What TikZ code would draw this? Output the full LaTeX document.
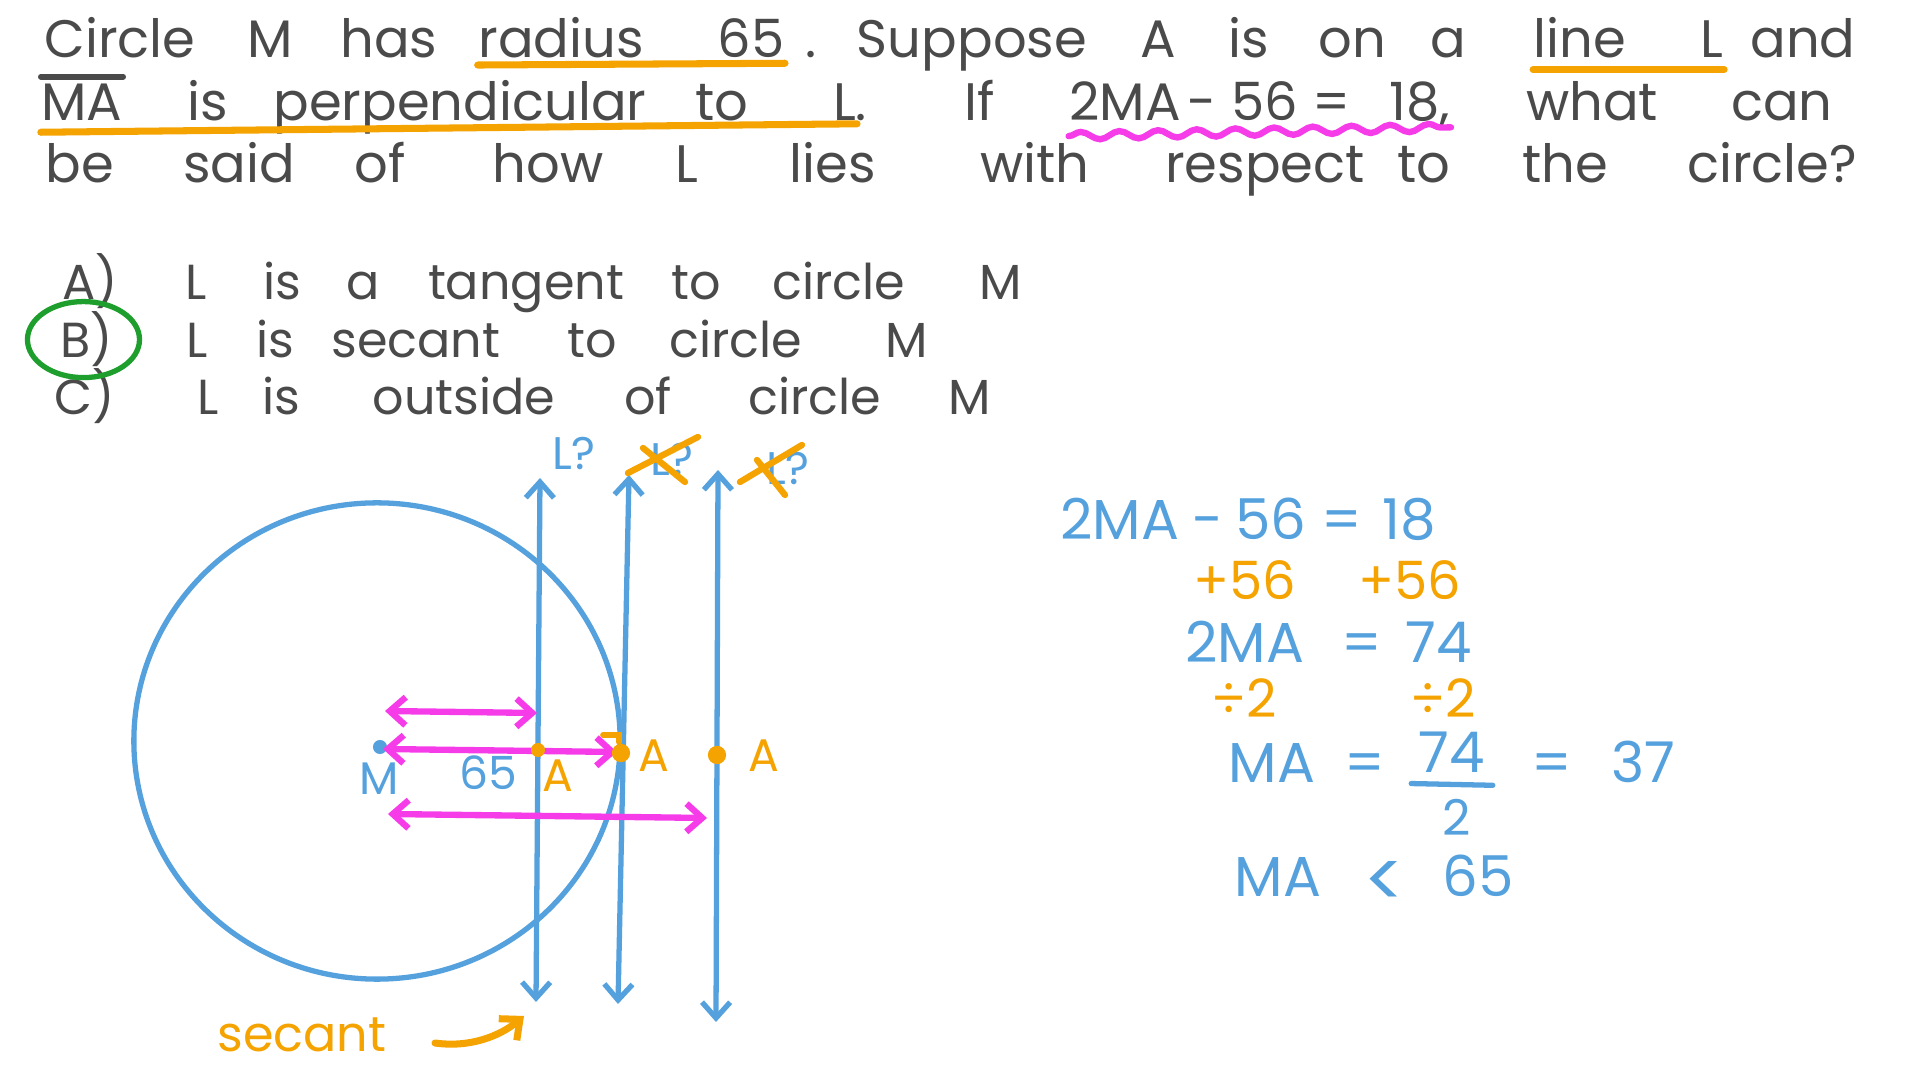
\documentclass[tikz,border=0pt]{standalone}
\usepackage{fontspec}
\setmainfont{Poppins}
\usepackage{tikz}
\usetikzlibrary{arrows.meta, positioning, decorations.pathmorphing}
\definecolor{inkgray}{HTML}{4A4A4A}
\definecolor{penblue}{HTML}{55A1DE}
\definecolor{penorange}{HTML}{F5A300}
\definecolor{penpink}{HTML}{F53CE8}
\definecolor{pengreen}{HTML}{1E9E2C}

\begin{document}
\begin{tikzpicture}[
    x=0.01cm, y=-0.01cm,
    every node/.style={inner sep=0pt, anchor=base},
    word/.style={font=\fontsize{15}{18}\selectfont, text=inkgray},
    choice/.style={font=\fontsize{14}{17}\selectfont, text=inkgray},
    bluetxt/.style={font=\fontsize{16}{19}\selectfont, text=penblue},
    ortxt/.style={font=\fontsize{15}{18}\selectfont, text=penorange},
    tag/.style={font=\fontsize{13}{16}\selectfont},
    uline/.style={penorange, line width=2pt, line cap=round},
    wavy/.style={penpink, line width=1.8pt, line cap=round, decorate,
                 decoration={snake, amplitude=1.1pt, segment length=11pt}},
    pen/.style={penblue, line width=1.5pt, line cap=round},
    bluearrow/.style={pen, {Straight Barb[length=4.5pt, width=8pt]}-{Straight Barb[length=4.5pt, width=8pt]}},
    pinkarrow/.style={penpink, line width=1.8pt, line cap=round,
                      {Straight Barb[length=4.5pt, width=8pt]}-{Straight Barb[length=4.5pt, width=8pt]}},
    orangearrow/.style={penorange, line width=2pt, line cap=round, -{Straight Barb[length=4.5pt, width=8pt]}}
]

\fill[white] (0,0) rectangle (1920,1080);
\useasboundingbox (0,0) rectangle (1920,1080);

% --- Question ---
\foreach \x/\w [count=\i] in {120/Circle, 270/M, 389/has, 561/radius, 751/65, 811/., 972/Suppose, 1158/A,
                              1249/is, 1352/on, 1448/a, 1580/line, 1712/L, 1803/and}
  \node[word] (qa\i) at (\x,58) {\w};
\foreach \x/\w [count=\i] in {82/MA, 208/is, 460/perpendicular, 722/to, 850/L., 980/If, 1125/2MA, 1202/-,
                              1265/56, 1332/=, 1420/{18,}, 1592/what, 1782/can}
  \node[word] (qb\i) at (\x,121) {\w};
\foreach \x/\w [count=\i] in {80/be, 239/said, 380/of, 548/how, 687/L, 833/lies, 1035/with, 1265/respect,
                              1424/to, 1565/the, 1772/circle?}
  \node[word] (qc\i) at (\x,183) {\w};

\draw[inkgray, line width=1.6pt, line cap=round] ([yshift=2pt]qb1.north west) -- ([yshift=2pt]qb1.north east);
\draw[uline] ([yshift=-2pt]qa4.base west) -- ([yshift=-1.5pt]qa5.base east);
\draw[uline] ([yshift=-3.3pt]qa12.base west) -- ([yshift=-3.3pt]qa13.base east);
\draw[uline] ([yshift=-3.2pt]qb1.base west) -- ([xshift=-3pt, yshift=-0.8pt]qb5.base east);
\draw[wavy] ([yshift=-4.3pt]qb7.base west) -- ([yshift=-1.8pt]qb11.base east);

% --- Choices ---
\foreach \x/\w [count=\i] in {90/A), 196/L, 282/is, 363/a, 526/tangent, 696/to, 839/circle, 1001/M}
  \node[choice] (oa\i) at (\x,300) {\w};
\foreach \x/\w [count=\i] in {87/B), 197/L, 275/is, 416/secant, 592/to, 736/circle, 907/M}
  \node[choice] (ob\i) at (\x,358) {\w};
\foreach \x/\w [count=\i] in {85/C), 208/L, 281/is, 464/outside, 648/of, 815/circle, 970/M}
  \node[choice] (oc\i) at (\x,415) {\w};

\draw[pengreen, line width=1.5pt] ([xshift=-1pt]ob1.center) ellipse [x radius=0.56cm, y radius=0.38cm];

% --- Circle and lines ---
\coordinate (ctr) at (377,741);
\draw[pen] (ctr) ellipse [x radius=2.43cm, y radius=2.38cm];
\fill[penblue] (380,747) circle (2pt);

\coordinate (l1top) at (540,478);
\coordinate (l1bot) at (536,1002);
\coordinate (l2top) at (629,475);
\coordinate (l2bot) at (618,1004);
\coordinate (l3top) at (718,470);
\coordinate (l3bot) at (716,1022);
\draw[bluearrow] (l1bot) -- (l1top);
\draw[bluearrow] (l2bot) -- (l2top);
\draw[bluearrow] (l3bot) -- (l3top);

\node[tag, text=penblue] (q1) at (574,470) {L?};
\node[tag, text=penblue] (q2) at (672,476) {L?};
\node[tag, text=penblue] (q3) at (788,485) {L?};
\draw[uline, line width=1.8pt] (628,473) -- (698,437);
\draw[uline, line width=1.8pt] (643,448) -- (685,482);
\draw[uline, line width=1.8pt] (740,482) -- (802,445);
\draw[uline, line width=1.8pt] (757,460) -- (785,495);

% --- Distances ---
\coordinate (ma1) at (385,711);
\coordinate (ma1e) at (537,713);
\coordinate (ma2) at (383,749);
\coordinate (ma2e) at (617,752);
\coordinate (ma3) at (388,814);
\coordinate (ma3e) at (707,818);
\draw[pinkarrow] (ma1) -- (ma1e);
\draw[pinkarrow] (ma2) -- (ma2e);
\draw[pinkarrow] (ma3) -- (ma3e);

\fill[penorange] (538,750) circle (2pt);
\fill[penorange] (621,753) circle (2.6pt);
\fill[penorange] (717,755) circle (2.6pt);
\draw[penorange, line width=1.6pt, line cap=round] (603,735) -- (619,735) -- (619,742);

\node[tag, text=penblue] (mlab) at (379,795) {M};
\node[tag, text=penblue] (rlab) at (488,790) {65};
\node[tag, text=penorange] (a1) at (558,792) {A};
\node[tag, text=penorange] (a2) at (654,772) {A};
\node[tag, text=penorange] (a3) at (764,772) {A};

% --- Secant note ---
\node[ortxt, font=\fontsize{14}{17}\selectfont] (seclab) at (302,1052) {secant};
\coordinate (secfrom) at (435,1043);
\coordinate (secto) at (524,1016);
\draw[orangearrow] (secfrom) .. controls (470,1048) and (500,1036) .. (secto);

% --- Working ---
\foreach \x/\w [count=\i] in {1120/2MA, 1208/-, 1271/56, 1342/=, 1409/18}
  \node[bluetxt] (ra\i) at (\x,540) {\w};
\foreach \x/\w [count=\i] in {1245/+56, 1410/+56}
  \node[ortxt] (rb\i) at (\x,600) {\w};
\foreach \x/\w [count=\i] in {1245/2MA, 1362/=, 1439/74}
  \node[bluetxt] (rc\i) at (\x,663) {\w};
\foreach \x/\w [count=\i] in {1244/÷2, 1443/÷2}
  \node[ortxt] (rd\i) at (\x,718) {\w};
\foreach \x/\w [count=\i] in {1272/MA, 1365/=, 1552/=, 1643/37}
  \node[bluetxt] (re\i) at (\x,783) {\w};
\node[bluetxt] (fnum) at (1452,773) {74};
\node[bluetxt, font=\fontsize{14}{17}\selectfont] (fden) at (1457,836) {2};
\draw[pen] ([xshift=-2pt, yshift=-3pt]fnum.base west) -- ([xshift=2pt, yshift=-3.5pt]fnum.base east);
\node[bluetxt] (rf1) at (1278,897) {MA};
\node[bluetxt, font=\fontsize{22}{24}\selectfont] (rf2) at (1385,908) {<};
\node[bluetxt] (rf3) at (1478,897) {65};

\end{tikzpicture}
\end{document}
